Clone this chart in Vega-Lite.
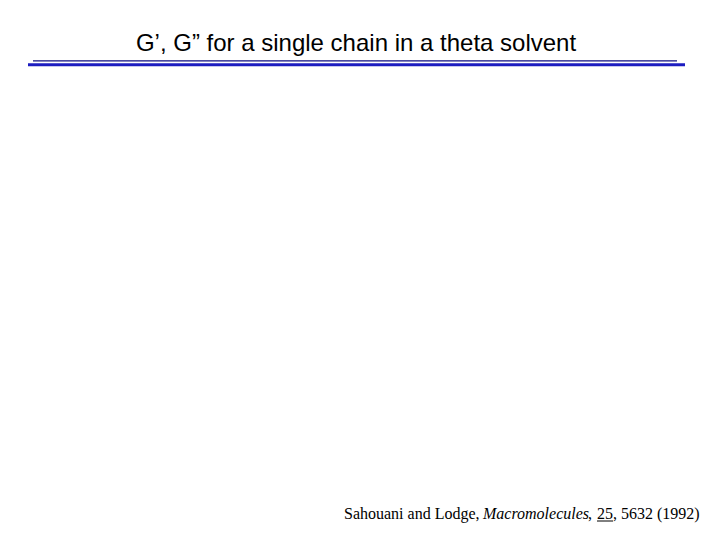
{
  "$schema": "https://vega.github.io/schema/vega-lite/v6.json",
  "width": 720,
  "height": 540,
  "autosize": {"type": "fit", "contains": "padding"},
  "padding": 0,
  "background": "white",
  "config": {"view": {"stroke": null}},
  "datasets": {
    "rules": [
      {"kind": "thin", "x": 33, "x2": 677, "y": 60.8},
      {"kind": "thick", "x": 28, "x2": 685, "y": 64.8}
    ],
    "heading": [
      {"label": "G\u2019, G\u201d for a single chain in a theta solvent", "x": 356, "y": 51}
    ],
    "citation": [
      {"part": "plain", "label": "Sahouani and Lodge,", "x": 344, "y": 519},
      {"part": "italic", "label": "Macromolecules", "x": 483, "y": 519},
      {"part": "plain", "label": ",", "x": 588, "y": 519},
      {"part": "underline", "label": "25", "x": 597, "y": 519},
      {"part": "plain", "label": ", 5632 (1992)", "x": 613, "y": 519}
    ],
    "underline": [
      {"x": 597, "x2": 613, "y": 521}
    ]
  },
  "layer": [
    {
      "data": {"name": "rules"},
      "mark": {"type": "rule"},
      "encoding": {
        "x": {"field": "x", "type": "quantitative", "scale": {"domain": [0, 720], "nice": false, "zero": false}, "axis": null},
        "x2": {"field": "x2"},
        "y": {"field": "y", "type": "quantitative", "scale": {"domain": [0, 540], "nice": false, "zero": false, "reverse": true}, "axis": null},
        "color": {"field": "kind", "type": "nominal", "scale": {"domain": ["thin", "thick"], "range": ["#0c0c80", "#1c1cc0"]}, "legend": null},
        "size": {"field": "kind", "type": "nominal", "scale": {"domain": ["thin", "thick"], "range": [1.3, 3]}, "legend": null}
      }
    },
    {
      "data": {"name": "heading"},
      "mark": {"type": "text", "font": "Liberation Sans", "fontSize": 24, "align": "center", "baseline": "alphabetic", "color": "black"},
      "encoding": {
        "x": {"field": "x", "type": "quantitative"},
        "y": {"field": "y", "type": "quantitative"},
        "text": {"field": "label"}
      }
    },
    {
      "data": {"name": "citation"},
      "transform": [{"filter": "datum.part != 'italic'"}],
      "mark": {"type": "text", "font": "Liberation Serif", "fontSize": 16, "align": "left", "baseline": "alphabetic", "color": "black"},
      "encoding": {
        "x": {"field": "x", "type": "quantitative"},
        "y": {"field": "y", "type": "quantitative"},
        "text": {"field": "label"}
      }
    },
    {
      "data": {"name": "citation"},
      "transform": [{"filter": "datum.part == 'italic'"}],
      "mark": {"type": "text", "font": "Liberation Serif", "fontSize": 16, "fontStyle": "italic", "align": "left", "baseline": "alphabetic", "color": "black"},
      "encoding": {
        "x": {"field": "x", "type": "quantitative"},
        "y": {"field": "y", "type": "quantitative"},
        "text": {"field": "label"}
      }
    },
    {
      "data": {"name": "underline"},
      "mark": {"type": "rule", "color": "black", "strokeWidth": 1},
      "encoding": {
        "x": {"field": "x", "type": "quantitative"},
        "x2": {"field": "x2"},
        "y": {"field": "y", "type": "quantitative"}
      }
    }
  ]
}
